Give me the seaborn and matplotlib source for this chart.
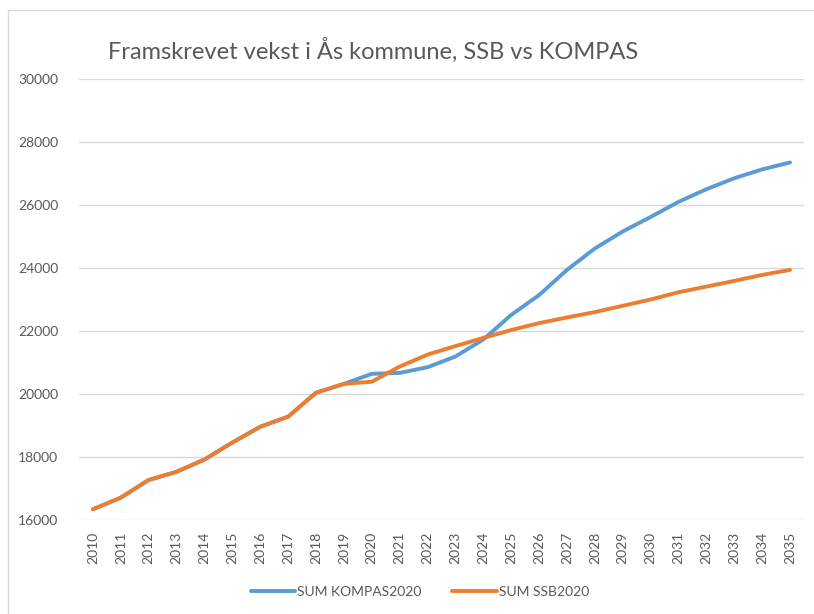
import numpy as np
import pandas as pd
import matplotlib
matplotlib.use("Agg")
import matplotlib.pyplot as plt
import seaborn as sns

years = list(range(2010, 2036))
kompas = [16350, 16720, 17280, 17540, 17930, 18470, 18970, 19290, 20050, 20330,
          20650, 20680, 20860, 21200, 21740, 22520, 23150, 23950, 24630, 25170,
          25630, 26110, 26510, 26860, 27140, 27360]
ssb = [16350, 16720, 17280, 17540, 17930, 18470, 18970, 19290, 20050, 20330,
       20400, 20880, 21260, 21530, 21790, 22040, 22260, 22440, 22610, 22810,
       23010, 23240, 23420, 23600, 23790, 23950]
series_names = ["SUM KOMPAS2020", "SUM SSB2020"]
title = "Framskrevet vekst i Ås kommune, SSB vs KOMPAS"

df = pd.DataFrame({"year": years, series_names[0]: kompas, series_names[1]: ssb})
long = df.melt(id_vars="year", var_name="serie", value_name="value")

sns.set_style("white")
plt.rcParams['font.family'] = ['Lato', 'DejaVu Sans']
grey = "#595959"

fig = plt.figure(figsize=(8.14, 6.14), dpi=100)
# outer chart frame (only top and left edges visible)
fig.patches.append(plt.Rectangle((8 / 814, -0.1), 1.2, (614 - 10) / 614 + 0.1,
                                 transform=fig.transFigure, fill=False,
                                 edgecolor="#D9D9D9", linewidth=1))

ax = fig.add_axes([79 / 814, (614 - 520.3) / 614, (804 - 79) / 814, (520.3 - 79.3) / 614])
sns.lineplot(data=long, x="year", y="value", hue="serie",
             palette=["#5B9BD5", "#ED7D31"], linewidth=2.8, ax=ax, legend=False)

ax.set_xlim(2009.5, 2035.5)
ax.set_ylim(16000, 30000)
ax.set_yticks(np.arange(16000, 30001, 2000))
ax.set_xticks(years)
ax.set_xticklabels([str(y) for y in years], rotation=90)
ax.grid(axis="y", color="#D9D9D9", linewidth=1)
ax.set_axisbelow(True)
for s in ax.spines.values():
    s.set_visible(False)
ax.tick_params(axis="both", colors=grey, labelsize=10, length=0)
ax.tick_params(axis="y", pad=15)
ax.tick_params(axis="x", pad=8)
ax.set_xlabel("")
ax.set_ylabel("")

fig.text(108 / 814, 1 - 50 / 614, title, fontsize=17, color=grey, va="center", ha="left")

handles = [plt.Line2D([], [], color=c, linewidth=2.8) for c in ["#5B9BD5", "#ED7D31"]]
fig.legend(handles, series_names, loc="center", bbox_to_anchor=(420 / 814, 1 - 592 / 614),
           ncol=2, frameon=False, fontsize=10, labelcolor=grey, handlelength=3.2,
           handletextpad=0.15, columnspacing=2.2)

fig.savefig("out.png", dpi=100)
